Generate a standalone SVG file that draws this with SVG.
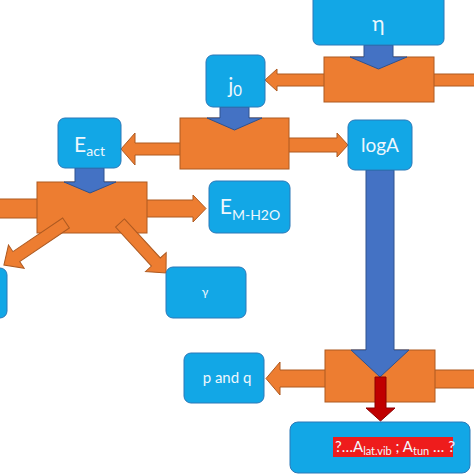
<svg xmlns="http://www.w3.org/2000/svg" width="474" height="474" viewBox="0 0 474 474">
<style>
.box{fill:#12A7E6;stroke:#2A78B8;stroke-width:1}
.blk{fill:#ED7D31;stroke:#AE5A21;stroke-width:1}
.oar{fill:#ED7D31;stroke:#AE5A21;stroke-width:1}
.bar{fill:#4472C4;stroke:#2F528F;stroke-width:1}
.rar{fill:#C00000;stroke:#8B0000;stroke-width:1}
text{font-family:Lato,"Open Sans","Liberation Sans",sans-serif;fill:#EEF7FD}
</style>
<rect width="474" height="474" fill="#FFFFFF"/>
<g id="connectors">
  <polygon class="oar" points="330,74 277,74 277,69 265,80 277,91 277,86 330,86"/>
  <rect class="oar" x="428" y="74" width="50" height="12"/>
  <polygon class="oar" points="186,143 135,143 135,133 121,149 135,165 135,155 186,155"/>
  <polygon class="oar" points="283,138 337,138 337,133 348,145 337,157 337,152 283,152"/>
  <rect class="oar" x="-5" y="199" width="48" height="19"/>
  <polygon class="oar" points="141,200 193,200 193,195 206,208.5 193,222 193,217 141,217"/>
  <polygon class="oar" points="331,370 280,370 280,362 266,378.5 280,395 280,387 331,387"/>
  <rect class="oar" x="429" y="370" width="50" height="18"/>
</g>
<g id="block1"><rect class="blk" x="324" y="57" width="110" height="45"/></g>
<g id="block2"><rect class="blk" x="180" y="118" width="109" height="51"/></g>
<g id="block3"><rect class="blk" x="37" y="182" width="110" height="51"/></g>
<g id="block4"><rect class="blk" x="325" y="350" width="110" height="52"/></g>
<g id="connectors-top">
  <polygon class="oar" transform="translate(66,223) rotate(145.9)" points="0,-6 60,-6 60,-14 75,0 60,14 60,6 0,6"/>
  <polygon class="oar" transform="translate(120,223) rotate(47.4)" points="0,-6 53,-6 53,-14 68,0 53,14 53,6 0,6"/>
  <polygon class="bar" points="364,45 393,45 393,57 407,57 378.5,69 350,57 364,57"/>
  <polygon class="bar" points="220,107 249,107 249,118 262,118 234.5,130 207,118 220,118"/>
  <polygon class="bar" points="75,168 104,168 104,182 116,182 90,193 64,182 75,182"/>
  <polygon class="bar" points="366,170 394,170 394,350 409,350 380,377 351,350 366,350"/>
  <polygon class="rar" points="375,377 386,377 386,408 395,408 380.5,421 366,408 375,408"/>
</g>
<g id="eta">
  <rect class="box" x="313" y="-6" width="131" height="51" rx="6"/>
  <text x="378.5" y="31" font-size="21" text-anchor="middle">η</text>
</g>
<g id="j0">
  <rect class="box" x="206" y="55" width="59" height="52" rx="7"/>
  <text x="235" y="93" font-size="21" text-anchor="middle">j<tspan font-size="15" dy="3">0</tspan></text>
</g>
<g id="Eact">
  <rect class="box" x="58" y="118" width="63" height="50" rx="7"/>
  <text x="89.5" y="152" font-size="21" text-anchor="middle">E<tspan font-size="14" dy="4">act</tspan></text>
</g>
<g id="logA">
  <rect class="box" x="348" y="120" width="64" height="50" rx="7"/>
  <text x="380" y="152" font-size="19" text-anchor="middle">logA</text>
</g>
<g id="EMH2O">
  <rect class="box" x="209" y="181" width="81" height="52" rx="7"/>
  <text x="250" y="214" font-size="21" text-anchor="middle">E<tspan font-size="14" dy="6">M-H2O</tspan></text>
</g>
<g id="gamma">
  <rect class="box" x="166" y="267" width="80" height="51" rx="7"/>
  <text x="205" y="296" font-size="12" text-anchor="middle">γ</text>
</g>
<g id="leftbox">
  <rect class="box" x="-60" y="268" width="67" height="50" rx="7"/>
</g>
<g id="pandq">
  <rect class="box" x="184" y="353" width="80" height="50" rx="7"/>
  <text x="227" y="383" font-size="15" text-anchor="middle">p and q</text>
</g>
<g id="bottom">
  <rect class="box" x="290" y="422" width="180" height="51" rx="8"/>
  <rect x="333" y="437" width="120" height="20" fill="#EE1C1C"/>
  <text x="335" y="452" font-size="15">?…A<tspan font-size="11" dy="3">lat.vib</tspan><tspan dy="-3"> ; A</tspan><tspan font-size="11" dy="3">tun</tspan><tspan dy="-3"> … ?</tspan></text>
</g>
</svg>
